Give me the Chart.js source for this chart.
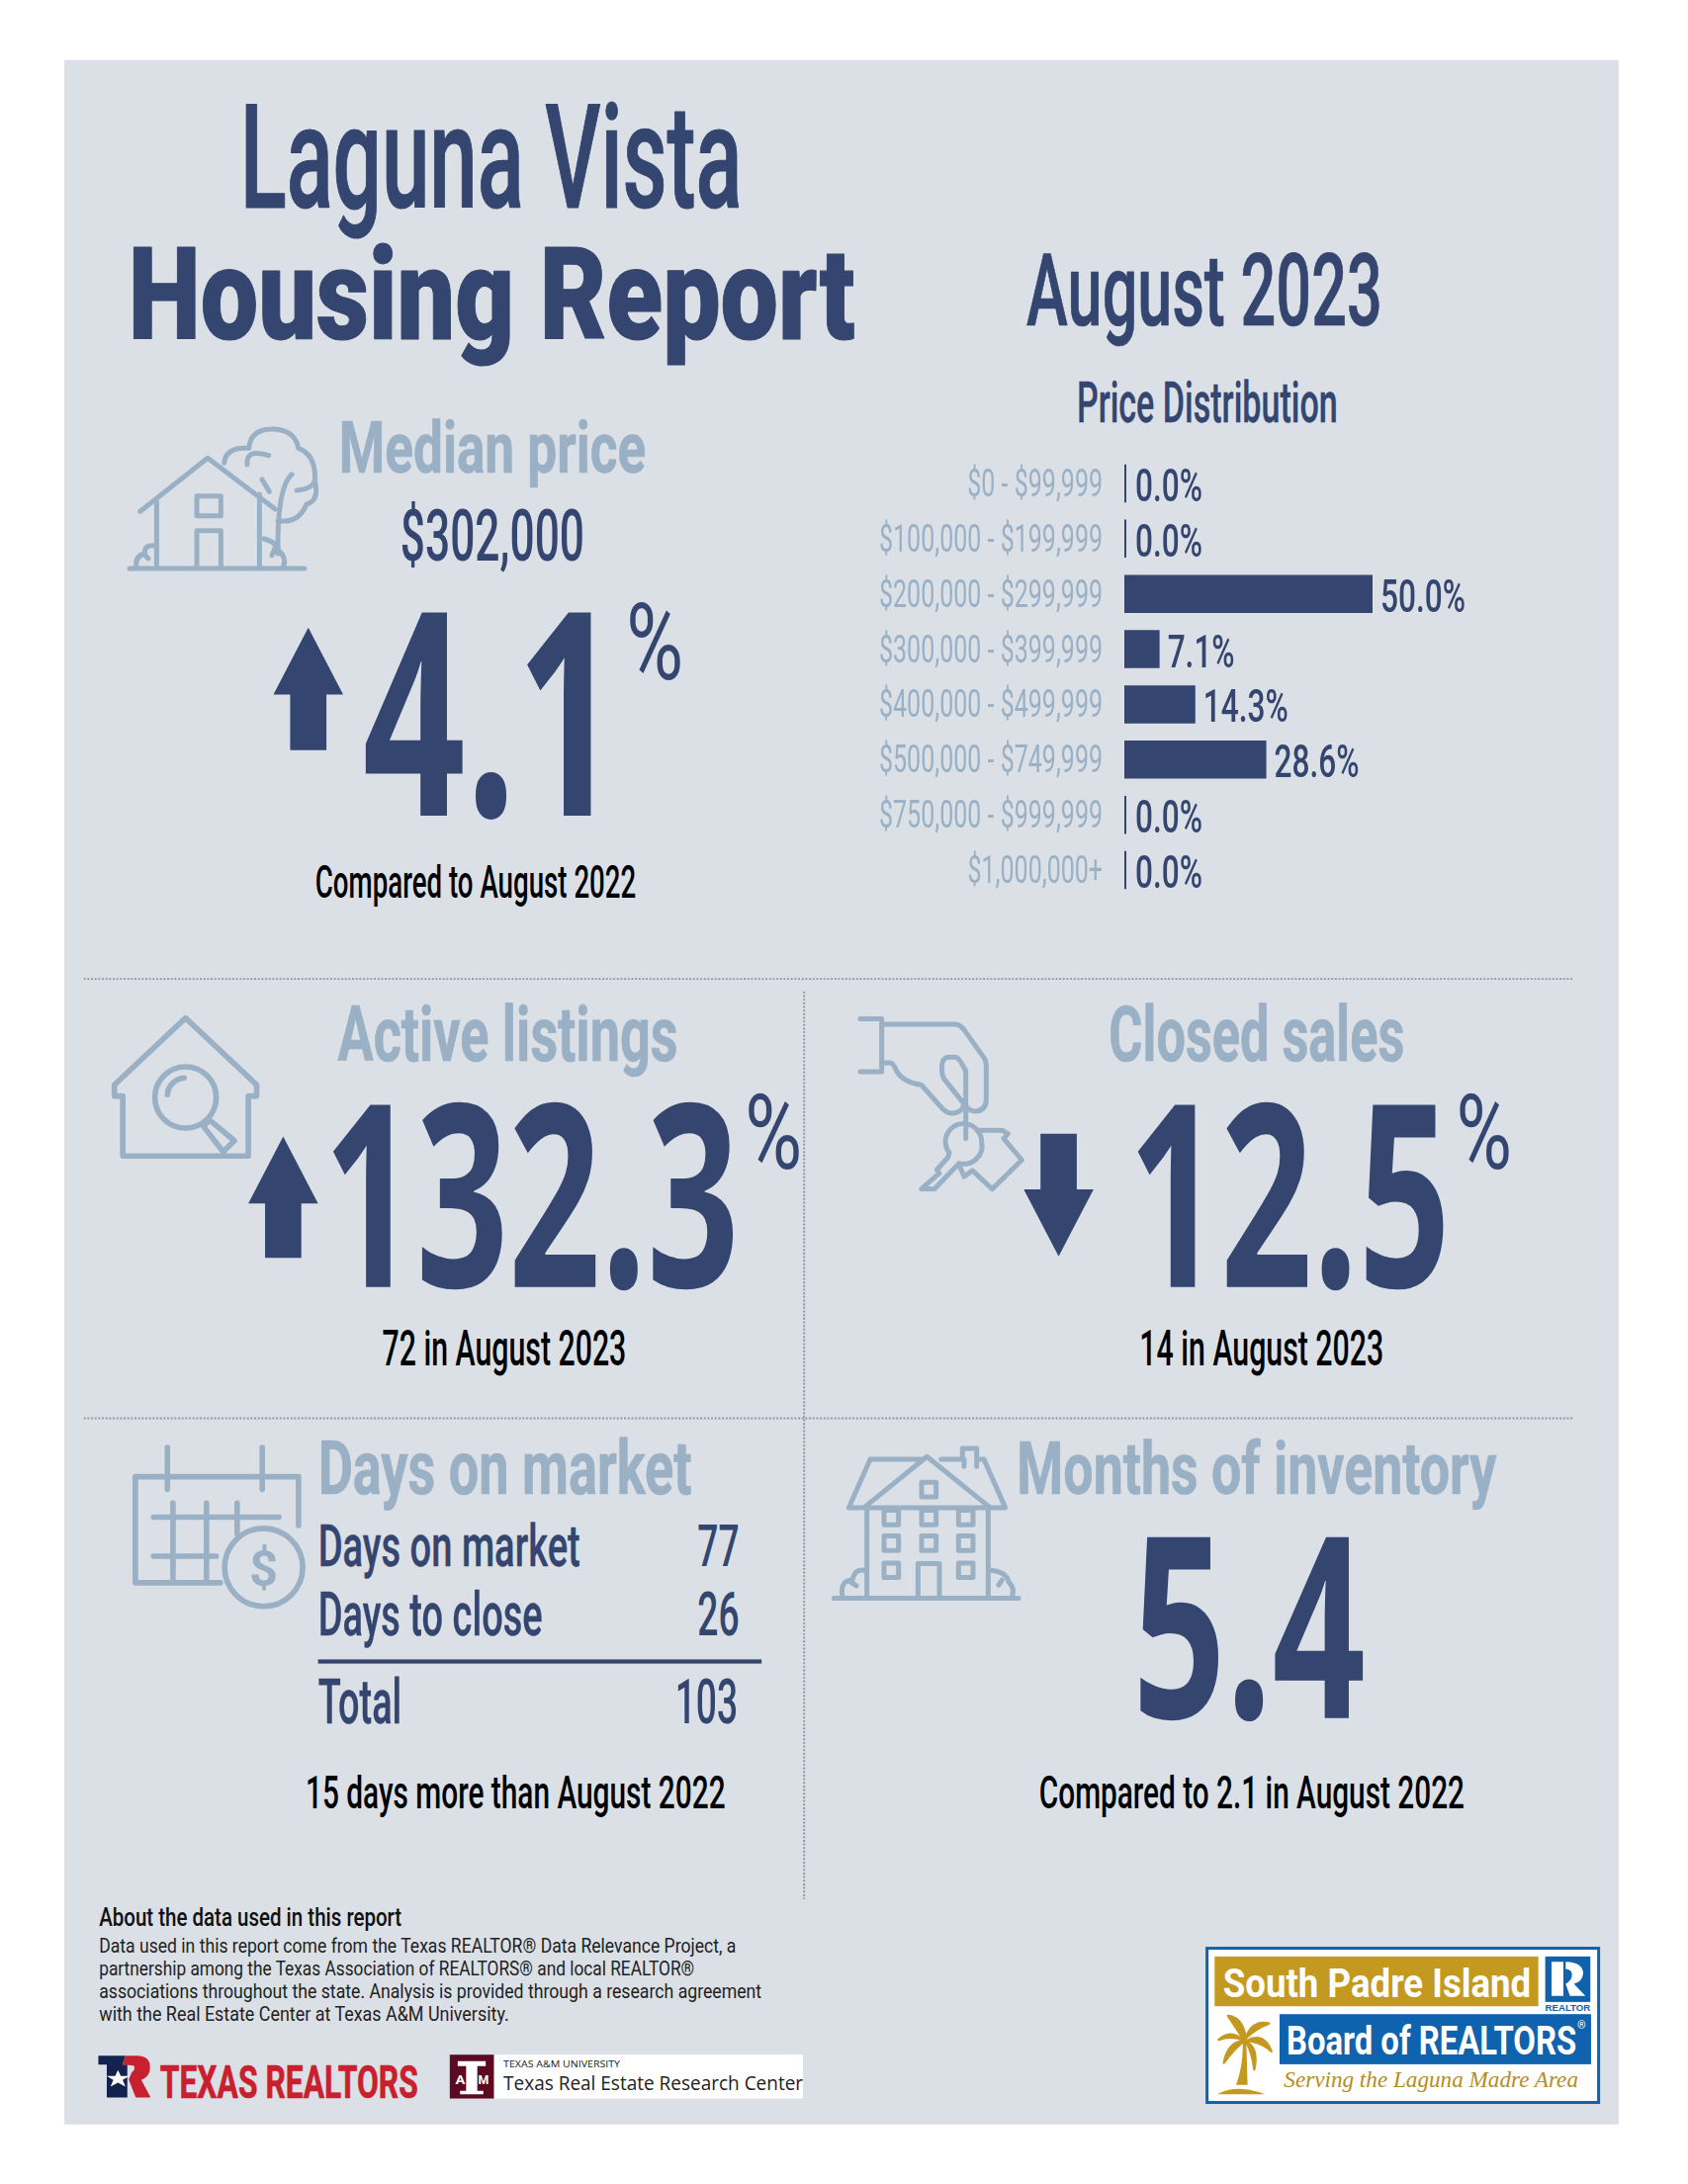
<!DOCTYPE html>
<html>
<head>
<meta charset="utf-8">
<title>Laguna Vista Housing Report</title>
<script src="https://cdn.jsdelivr.net/npm/chart.js@4"></script>
<style>
  html, body { margin: 0; background: #fff; }
  #page { position: relative; width: 1707px; height: 2209px; overflow: hidden; }
  #art { position: absolute; left: 0; top: 0; width: 1707px; height: 2209px; }
  #priceBox { position: absolute; left: 860px; top: 461px; width: 660px; height: 447px; }
  #art text { font-family: Roboto, "Liberation Sans", sans-serif; }
  .icon { fill: none; stroke: #9ab0c5; stroke-width: 15; stroke-linecap: round; stroke-linejoin: round; }
</style>
</head>
<body>
<div id="page">
  <svg id="art" viewBox="0 0 1210.2 1566.2" xmlns="http://www.w3.org/2000/svg"></svg>
  <div id="priceBox"><canvas id="priceChart"></canvas></div>
</div>
<script>
// values
const priceBands = ["$0 - $99,999", "$100,000 - $199,999", "$200,000 - $299,999", "$300,000 - $399,999",
  "$400,000 - $499,999", "$500,000 - $749,999", "$750,000 - $999,999", "$1,000,000+"];
const priceShares = [0, 0, 50.0, 7.1, 14.3, 28.6, 0, 0];
const medianPrice = "$302,000";
const medianChange = "4.1";
const activeChange = "132.3";
const closedChange = "12.5";
const monthsInventory = "5.4";
const domRows = ["Days on market", "Days to close", "Total"];
const domValues = [77, 26, 103];
const noteLines = [
  "Data used in this report come from the Texas REALTOR® Data Relevance Project, a",
  "partnership among the Texas Association of REALTORS® and local REALTOR®",
  "associations throughout the state. Analysis is provided through a research agreement",
  "with the Real Estate Center at Texas A&M University."
];

const navy = "#34466f";
const steel = "#9ab0c5";
const blue = "#0f62ae";
const gold = "#c4991f";
const bigFont = "'Open Sans'";
const art = document.getElementById("art");
const K = 1210.2 / 1707;

function el(name, attrs, content, parent) {
  const node = document.createElementNS("http://www.w3.org/2000/svg", name);
  for (const k in attrs) node.setAttribute(k, attrs[k]);
  if (content !== undefined && content !== null) node.textContent = content;
  (parent || art).appendChild(node);
  return node;
}

// text fitted between x0 and x1, font size comes from cap height
function txt(str, x0, x1, top, base, color, weight, thicken, family) {
  const node = el("text", {
    x: 0, y: 0, "font-size": (base - top) / 0.71, fill: color,
    "font-weight": weight || 400
  }, str);
  if (family) node.style.fontFamily = family;
  if (thicken) {
    node.setAttribute("stroke", color);
    node.setAttribute("stroke-width", thicken);
    node.setAttribute("vector-effect", "non-scaling-stroke");
    node.setAttribute("stroke-linejoin", "round");
  }
  const sx = (x1 - x0) / node.getComputedTextLength();
  node.setAttribute("transform", `translate(${x0} ${base}) scale(${sx} 1)`);
  return node;
}

// group whose coordinates are those of a 3x crop of the page
function cropGroup(x, y, sx, sy) {
  return el("g", { transform: `scale(${K}) translate(${x} ${y}) scale(${sx || 1 / 3} ${sy || 1 / 3})` });
}

function arrowUp(x, y0, y1) {
  el("path", { d: `M${x},${y0} L${x + 25},${y0 + 48} H${x + 13} V${y1} H${x - 13} V${y0 + 48} H${x - 25} Z`, fill: navy });
}
function arrowDown(x, y0, y1) {
  el("path", { d: `M${x - 13},${y0} H${x + 13} V${y1 - 48} H${x + 25} L${x},${y1} L${x - 25},${y1 - 48} H${x - 13} Z`, fill: navy });
}

// panel
el("rect", { x: 46, y: 43, width: 1114.5, height: 1480.5, fill: "#dbe0e7" });

// headings
txt("Laguna Vista", 172, 532, 75, 149, navy, 500, 1);
txt("Housing Report", 92, 613, 178, 243, navy, 900, 1);
txt("August 2023", 736, 991, 182, 233, navy, 500, 0.6);
txt("Price Distribution", 772, 959, 274, 303, navy, 500, 0.3);

// median price
txt("Median price", 243, 463, 303, 339, steel, 700, 0.6);
txt(medianPrice, 287, 419, 366, 402, navy, 500);
arrowUp(221, 450, 538);
txt(medianChange, 260, 444, 440, 585, navy, 700, 0, bigFont);
txt("%", 449, 490, 433, 487, navy, 400);
txt("Compared to August 2022", 226, 456, 621, 644, "#000", 500);

// dividers
const dotted = { stroke: "#8d99a8", "stroke-width": 1.4, "stroke-dasharray": "1.4 1.2" };
el("line", Object.assign({ x1: 60, y1: 702, x2: 1128, y2: 702 }, dotted));
el("line", Object.assign({ x1: 60, y1: 1017, x2: 1128, y2: 1017 }, dotted));
el("line", Object.assign({ x1: 576.5, y1: 711, x2: 576.5, y2: 1362 }, dotted));

// active listings
txt("Active listings", 242, 486, 722, 761, steel, 700, 0.6);
arrowUp(203, 815, 902);
txt(activeChange, 232, 530, 793, 923, navy, 700, 0, bigFont);
txt("%", 534, 575, 785, 838, navy, 400);
txt("72 in August 2023", 274, 449, 954, 979, "#000", 500);

// closed sales
txt("Closed sales", 795, 1007, 722, 761, steel, 700, 0.6);
arrowDown(759, 813, 901);
txt(closedChange, 809, 1040, 793, 923, navy, 700, 0, bigFont);
txt("%", 1044, 1084, 785, 838, navy, 400);
txt("14 in August 2023", 817, 992, 954, 979, "#000", 500);

// days on market
txt("Days on market", 228, 496, 1033, 1071, steel, 700, 0.6);
txt(domRows[0], 228, 416, 1093, 1123, navy, 500, 0.3);
txt(String(domValues[0]), 500, 530, 1093, 1123, navy, 500);
txt(domRows[1], 228, 389, 1142, 1173, navy, 500, 0.3);
txt(String(domValues[1]), 500, 530, 1142, 1173, navy, 500);
el("rect", { x: 228, y: 1190, width: 318, height: 3, fill: navy });
txt(domRows[2], 228, 288, 1204, 1236, navy, 500, 0.3);
txt(String(domValues[2]), 484, 529, 1204, 1236, navy, 500);
txt("15 days more than August 2022", 219, 520, 1274, 1297, "#000", 500);

// months of inventory
txt("Months of inventory", 729, 1073, 1034, 1071, steel, 700, 0.6);
txt(monthsInventory, 812, 979, 1103, 1232, navy, 700, 0, bigFont);
txt("Compared to 2.1 in August 2022", 745, 1050, 1274, 1297, "#000", 500);

// footer note
txt("About the data used in this report", 71, 288, 1368, 1381, "#111", 500);
const noteEnds = [528, 498, 546, 365];
noteLines.forEach((line, i) => {
  txt(line, 71, noteEnds[i], 1390 + i * 16.3, 1400 + i * 16.3, "#222", 400);
});

// icons traced by hand from crops of the picture
function iconPaths(group, list) {
  list.forEach(d => el("path", { d: d, class: "icon" }, null, group));
}

const houseTree = cropGroup(125, 420);
iconPaths(houseTree, [
  "M18,465 H548",
  "M50,292 L255,130 L460,285",
  "M100,262 V460 M412,240 V460",
  "M222,245 H295 V305 H222 Z M222,460 V350 H295 V460",
  "M90,395 Q60,395 65,420 Q35,425 38,460 M60,420 L75,435",
  "M425,375 Q465,385 470,410 Q495,430 485,460 M460,400 L450,425",
  "M305,145 Q310,95 380,100 Q385,40 455,42 Q520,45 530,100 Q585,120 580,200 Q595,260 555,270 Q530,330 468,320",
  "M375,150 Q370,100 440,122 M420,195 L442,232 M510,180 Q465,220 468,420 M525,228 Q570,225 580,200"
]);

const handKeys = cropGroup(860, 1020);
iconPaths(handKeys, [
  "M30,32 H95 V192 H30",
  "M95,48 H318 Q335,50 345,65 L405,150 Q412,158 412,175 V280 Q410,310 380,312 Q360,312 350,295",
  "M95,165 H120 Q130,165 140,190 Q160,225 215,232 L280,305 Q300,325 325,315 Q345,305 345,285",
  "M345,290 L285,215 Q275,200 278,170 Q280,148 300,148 H320 Q330,150 350,190 V395",
  "M398,405 A55,55 0 1 0 288,405 A55,55 0 0 0 300,438 L296,452 L262,490 L270,500 L215,548 H255 L330,470 A55,55 0 0 0 398,405 Z",
  "M385,370 H460 L478,380 L465,395 L520,460 L430,548 L370,492 L345,510 L332,480"
]);

const building = cropGroup(840, 1450);
iconPaths(building, [
  "M10,500 H570",
  "M120,78 H280 M335,78 H400 V45 H443 V100 M405,100 V78 M443,78 H465 L530,225 H55 L120,78",
  "M105,222 L292,70 L480,222",
  "M110,225 V495 M478,225 V495 M265,495 V395 H330 V495",
  "M100,415 Q75,410 65,445 Q30,445 35,490 M60,450 L78,462",
  "M485,415 Q535,420 540,450 Q560,470 550,495 M520,445 L510,460"
]);
[[298, 170], [184, 255], [298, 255], [410, 255], [184, 333], [298, 333], [410, 333], [184, 415], [410, 415]].forEach(p => {
  el("rect", { x: p[0] - 22, y: p[1] - 22, width: 44, height: 44, class: "icon" }, null, building);
});

// these two are in the picture's scale, stroke is set to match
[
  "M88,786 H82 V778 L133,730 L184,778 V786 H178 V829 H88 Z",
  "M155,787 A22,22 0 1 1 111,787 A22,22 0 1 1 155,787 Z M150,803 L168,818 L160,826 M150,803 L146,808 L160,826 M120,785 A13,13 0 0 1 132,773",
  "M97,1059 H214 V1094 M97,1059 V1135 H158 M120,1038 V1068 M188,1038 V1068 M110,1088 H200 M110,1116 H155 M124,1078 V1132 M148,1078 V1132 M170,1078 V1100",
  "M217,1124 A28,28 0 1 1 161,1124 A28,28 0 1 1 217,1124 Z"
].forEach(d => el("path", { d: d, class: "icon", style: "stroke-width:4" }));
el("text", { x: 189, y: 1137, "font-size": 36, "text-anchor": "middle", fill: steel, "font-weight": "700" }, "$");

// Texas Realtors + A&M logos, crop is squeezed in x
const xf = 740 / 1568;
const logos = cropGroup(90, 2070, xf, 1 / 3);
el("path", { d: "M20,28 H78 L72,55 H82 V155 H38 V55 H20 Z", fill: "#14224f" }, null, logos);
el("path", { d: "M78,28 H105 Q135,30 130,75 Q126,95 112,102 L132,155 H100 L85,100 L92,78 Q100,70 96,58 L72,55 Z", fill: "#c8202e" }, null, logos);
el("path", { d: "M62,72 L68,90 L86,90 L72,102 L78,122 L62,110 L46,122 L52,102 L38,90 L56,90 Z", fill: "#fff" }, null, logos);
el("rect", { x: 773, y: 25, width: 95, height: 133, fill: "#5b0a22" }, null, logos);
el("rect", { x: 868, y: 25, width: 662, height: 133, fill: "#fff" }, null, logos);
el("path", { d: "M790,45 H850 V60 H832 V135 H845 V145 H795 V135 H808 V60 H790 Z", fill: "#fff" }, null, logos);
function logoX(c) { return (90 + c * xf) * K; }
function logoY(c) { return (2070 + c / 3) * K; }
txt("TEXAS REALTORS", logoX(152), logoX(705), logoY(58), logoY(155), "#c8202e", 700, 0.5);
txt("A", logoX(785), logoX(806), logoY(88), logoY(115), "#fff", 700);
txt("M", logoX(834), logoX(857), logoY(88), logoY(115), "#fff", 700);
txt("TEXAS A&M UNIVERSITY", logoX(888), logoX(1138), logoY(43), logoY(62), "#222", 400, 0, "'Open Sans'");
txt("Texas Real Estate Research Center", logoX(888), logoX(1530), logoY(90), logoY(131), "#222", 400, 0, "'Open Sans'");

// board logo
const board = cropGroup(1215, 1965);
el("rect", { x: 17, y: 17, width: 1188, height: 468, fill: "#fff", stroke: blue, "stroke-width": 9 }, null, board);
el("rect", { x: 40, y: 42, width: 982, height: 151, fill: gold }, null, board);
el("rect", { x: 1043, y: 42, width: 137, height: 138, fill: blue }, null, board);
el("rect", { x: 237, y: 217, width: 945, height: 152, fill: blue }, null, board);
el("path", { d: "M1062,58 H1098 V162 H1062 Z M1105,58 Q1160,60 1158,95 Q1155,120 1130,125 L1165,162 H1118 L1105,125 Q1125,115 1124,95 Q1122,82 1105,80 Z", fill: "#fff" }, null, board);
// palm
el("path", { d: "M48,460 Q110,428 192,460 Z M105,432 Q128,370 125,300 L136,300 Q138,370 140,432 Z", fill: gold }, null, board);
[
  "M130,298 Q100,250 80,222 Q125,225 135,290 Z",
  "M130,298 Q90,260 52,295 Q95,280 130,298 Z",
  "M130,298 Q80,300 68,365 Q100,320 130,298 Z",
  "M135,290 Q150,235 205,245 Q165,260 135,290 Z",
  "M135,298 Q190,270 212,330 Q180,300 135,298 Z",
  "M135,300 Q175,320 160,385 Q155,335 135,300 Z"
].forEach(d => el("path", { d: d, fill: gold, stroke: gold, "stroke-width": 7, "stroke-linejoin": "round" }, null, board));
function boardX(c) { return (1215 + c / 3) * K; }
function boardY(c) { return (1965 + c / 3) * K; }
txt("South Padre Island", boardX(65), boardX(1000), boardY(77), boardY(165), "#fff", 700);
txt("Board of REALTORS", boardX(258), boardX(1138), boardY(252), boardY(340), "#fff", 700);
txt("®", boardX(1140), boardX(1166), boardY(238), boardY(262), "#fff", 400);
txt("REALTOR", boardX(1043), boardX(1180), boardY(188), boardY(206), blue, 700, 0, "'Liberation Sans'");
txt("Serving the Laguna Madre Area", boardX(250), boardX(1142), boardY(388), boardY(438), "#b58d22", 400, 0, "'Liberation Serif'").style.fontStyle = "italic";

// canvas text has no stretch so the chart lettering is scaled here
const chartFont = "Roboto, 'Liberation Sans', sans-serif";
function squeezedText(ctx, str, x, y, font, color, scaleX, align) {
  ctx.save();
  ctx.font = font;
  ctx.fillStyle = color;
  ctx.textAlign = align;
  ctx.textBaseline = "alphabetic";
  ctx.translate(x, y);
  ctx.scale(scaleX, 1);
  ctx.fillText(str, 0, 0);
  ctx.restore();
}

const priceLabels = {
  id: "priceLabels",
  afterDatasetsDraw(chart) {
    const ctx = chart.ctx;
    const yScale = chart.scales.y;
    const tickFont = "39px " + chartFont;
    const valueFont = "500 47px " + chartFont;
    ctx.font = tickFont;
    const tickScale = 226 / ctx.measureText("$100,000 - $199,999").width;
    ctx.font = valueFont;
    const valueScale = 68 / ctx.measureText("0.0%").width;
    chart.getDatasetMeta(0).data.forEach((bar, i) => {
      const tickY = yScale.getPixelForTick(i) + 13;
      squeezedText(ctx, yScale.getLabelForValue(i), chart.chartArea.left - 22, tickY, tickFont, steel, tickScale, "right");
      const gap = priceShares[i] === 0 ? 9 : 8;
      squeezedText(ctx, priceShares[i].toFixed(1) + "%", bar.x + gap, bar.y + 18, valueFont, navy, valueScale, "left");
    });
  }
};

new Chart(document.getElementById("priceChart"), {
  type: "bar",
  data: {
    labels: priceBands,
    datasets: [{
      data: priceShares,
      backgroundColor: navy,
      minBarLength: 2,
      categoryPercentage: 1,
      barPercentage: 0.69
    }]
  },
  options: {
    indexAxis: "y",
    responsive: true,
    maintainAspectRatio: false,
    animation: false,
    layout: { padding: 0 },
    plugins: { legend: { display: false }, tooltip: { enabled: false } },
    scales: {
      x: { display: false, min: 0, max: 76.3 },
      y: {
        grid: { display: false },
        border: { display: false },
        ticks: { display: false },
        afterFit(scale) { scale.width = 277; }
      }
    }
  },
  plugins: [priceLabels]
});
</script>
</body>
</html>
